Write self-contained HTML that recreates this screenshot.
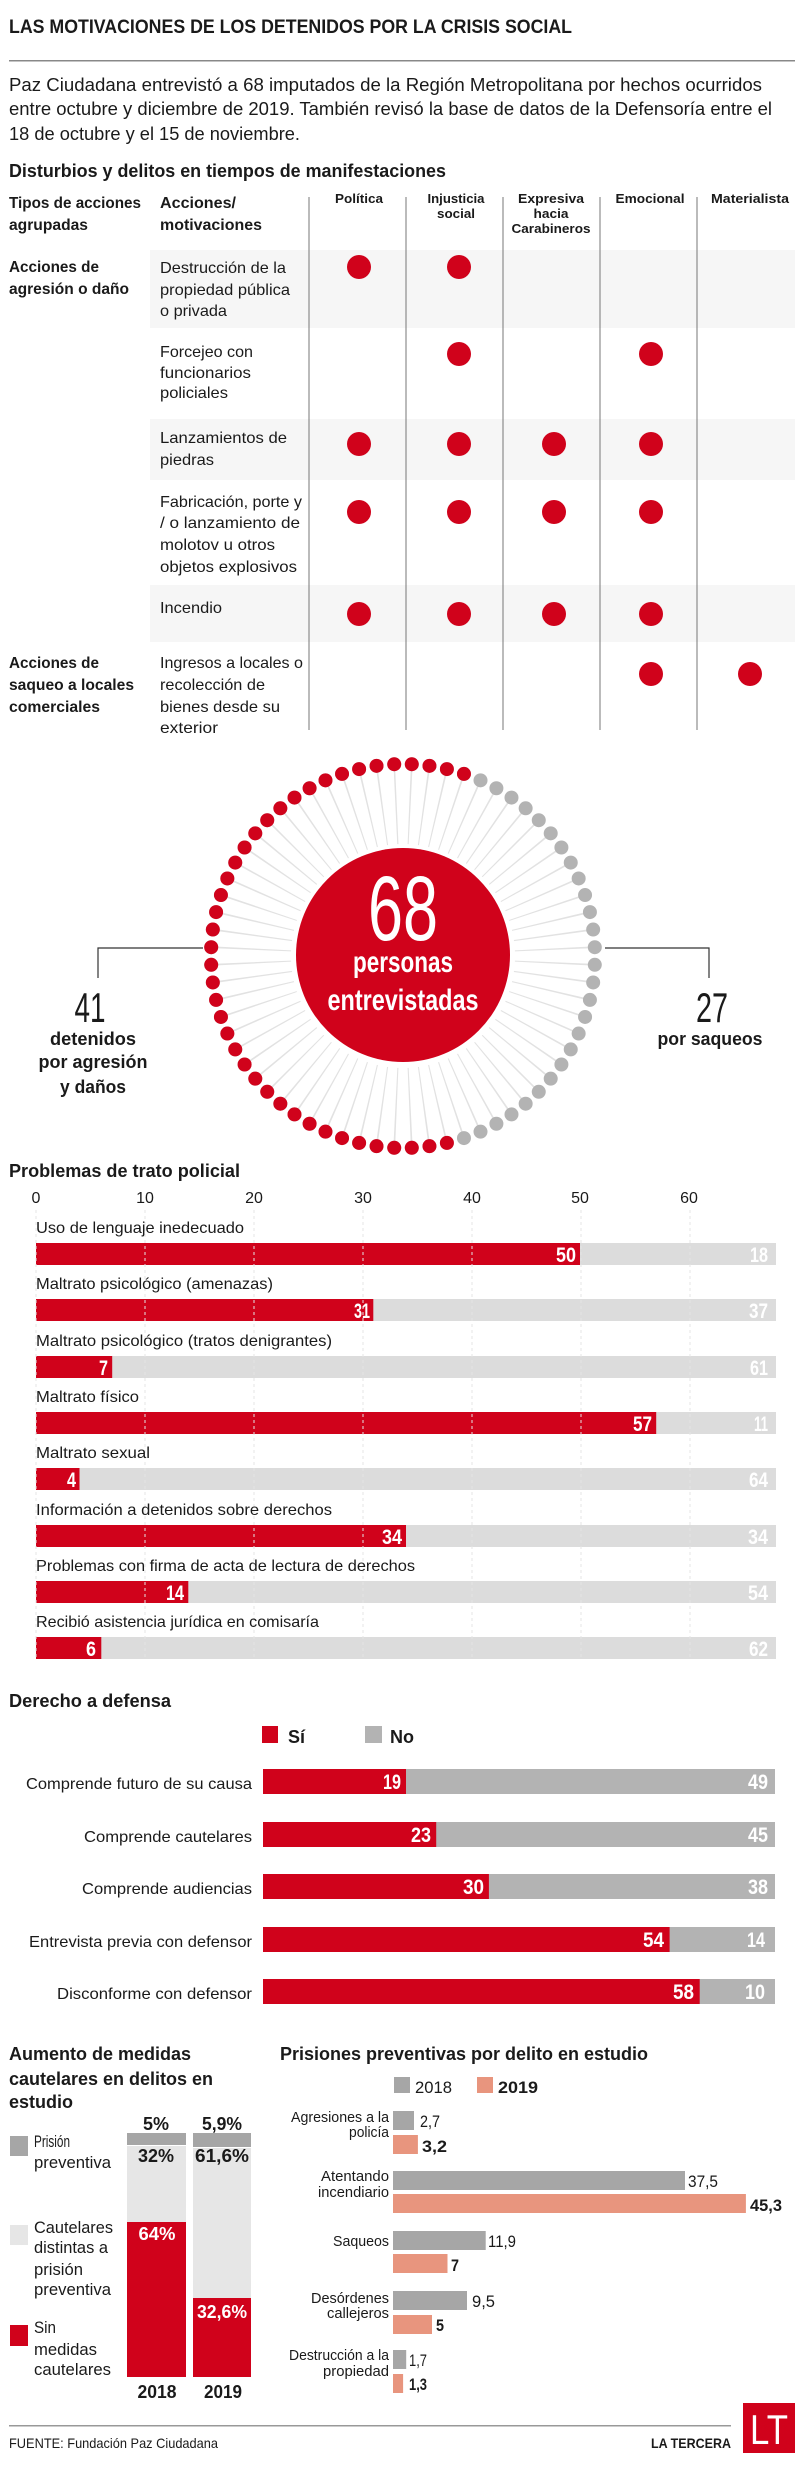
<!DOCTYPE html>
<html><head><meta charset="utf-8"><style>
html,body{margin:0;padding:0;background:#fff;}
svg{display:block;}
text{font-family:"Liberation Sans Narrow","Liberation Sans",sans-serif;fill:#1a1a1a;}
.b{font-weight:bold;}
.w{fill:#fff;}
</style></head><body>
<svg width="800" height="2476" viewBox="0 0 800 2476" xmlns="http://www.w3.org/2000/svg">
<g lengthAdjust="spacingAndGlyphs">
<text x="9" y="33" class="b" font-size="19" textLength="563" lengthAdjust="spacingAndGlyphs">LAS MOTIVACIONES DE LOS DETENIDOS POR LA CRISIS SOCIAL</text>
<rect x="9" y="60" width="786" height="1.5" fill="#888"/>
<text x="9" y="91" font-size="18" textLength="753" lengthAdjust="spacingAndGlyphs">Paz Ciudadana entrevistó a 68 imputados de la Región Metropolitana por hechos ocurridos</text>
<text x="9" y="115" font-size="18" textLength="763" lengthAdjust="spacingAndGlyphs">entre octubre y diciembre de 2019. También revisó la base de datos de la Defensoría entre el</text>
<text x="9" y="140" font-size="18" textLength="291" lengthAdjust="spacingAndGlyphs">18 de octubre y el 15 de noviembre.</text>
<text x="9" y="177" class="b" font-size="18" textLength="437" lengthAdjust="spacingAndGlyphs">Disturbios y delitos en tiempos de manifestaciones</text>

<!-- table -->
<rect x="150" y="250" width="645" height="78" fill="#f6f6f6"/>
<rect x="150" y="419" width="645" height="61" fill="#f6f6f6"/>
<rect x="150" y="585" width="645" height="57" fill="#f6f6f6"/>
<g stroke="#777" stroke-width="1">
<line x1="309" y1="197" x2="309" y2="730"/><line x1="406" y1="197" x2="406" y2="730"/>
<line x1="503" y1="197" x2="503" y2="730"/><line x1="600" y1="197" x2="600" y2="730"/>
<line x1="697" y1="197" x2="697" y2="730"/>
</g>
<text x="9" y="208" class="b" font-size="16" textLength="132" lengthAdjust="spacingAndGlyphs">Tipos de acciones</text>
<text x="9" y="230" class="b" font-size="16" textLength="79" lengthAdjust="spacingAndGlyphs">agrupadas</text>
<text x="160" y="208" class="b" font-size="16" textLength="76" lengthAdjust="spacingAndGlyphs">Acciones/</text>
<text x="160" y="230" class="b" font-size="16" textLength="102" lengthAdjust="spacingAndGlyphs">motivaciones</text>
<g font-size="13" class="b" text-anchor="middle">
<text x="359" y="203" class="b" textLength="48" lengthAdjust="spacingAndGlyphs">Política</text>
<text x="456" y="203" class="b" textLength="57" lengthAdjust="spacingAndGlyphs">Injusticia</text>
<text x="456" y="218" class="b" textLength="38" lengthAdjust="spacingAndGlyphs">social</text>
<text x="551" y="203" class="b" textLength="66" lengthAdjust="spacingAndGlyphs">Expresiva</text>
<text x="551" y="218" class="b" textLength="35" lengthAdjust="spacingAndGlyphs">hacia</text>
<text x="551" y="233" class="b" textLength="79" lengthAdjust="spacingAndGlyphs">Carabineros</text>
<text x="650" y="203" class="b" textLength="69" lengthAdjust="spacingAndGlyphs">Emocional</text>
<text x="750" y="203" class="b" textLength="78" lengthAdjust="spacingAndGlyphs">Materialista</text>
</g>
<text x="9" y="272" class="b" font-size="16" textLength="90" lengthAdjust="spacingAndGlyphs">Acciones de</text>
<text x="9" y="294" class="b" font-size="16" textLength="120" lengthAdjust="spacingAndGlyphs">agresión o daño</text>
<text x="9" y="668" class="b" font-size="16" textLength="90" lengthAdjust="spacingAndGlyphs">Acciones de</text>
<text x="9" y="690" class="b" font-size="16" textLength="125" lengthAdjust="spacingAndGlyphs">saqueo a locales</text>
<text x="9" y="712" class="b" font-size="16" textLength="91" lengthAdjust="spacingAndGlyphs">comerciales</text>
<g font-size="16">
<text x="160" y="273" textLength="126" lengthAdjust="spacingAndGlyphs">Destrucción de la</text>
<text x="160" y="295" textLength="130" lengthAdjust="spacingAndGlyphs">propiedad pública</text>
<text x="160" y="316" textLength="67" lengthAdjust="spacingAndGlyphs">o privada</text>
<text x="160" y="357" textLength="93" lengthAdjust="spacingAndGlyphs">Forcejeo con</text>
<text x="160" y="378" textLength="91" lengthAdjust="spacingAndGlyphs">funcionarios</text>
<text x="160" y="398" textLength="68" lengthAdjust="spacingAndGlyphs">policiales</text>
<text x="160" y="443" textLength="127" lengthAdjust="spacingAndGlyphs">Lanzamientos de</text>
<text x="160" y="465" textLength="54" lengthAdjust="spacingAndGlyphs">piedras</text>
<text x="160" y="507" textLength="142" lengthAdjust="spacingAndGlyphs">Fabricación, porte y</text>
<text x="160" y="528" textLength="140" lengthAdjust="spacingAndGlyphs">/ o lanzamiento de</text>
<text x="160" y="550" textLength="115" lengthAdjust="spacingAndGlyphs">molotov u otros</text>
<text x="160" y="572" textLength="137" lengthAdjust="spacingAndGlyphs">objetos explosivos</text>
<text x="160" y="613" textLength="62" lengthAdjust="spacingAndGlyphs">Incendio</text>
<text x="160" y="668" textLength="143" lengthAdjust="spacingAndGlyphs">Ingresos a locales o</text>
<text x="160" y="690" textLength="105" lengthAdjust="spacingAndGlyphs">recolección de</text>
<text x="160" y="712" textLength="120" lengthAdjust="spacingAndGlyphs">bienes desde su</text>
<text x="160" y="733" textLength="58" lengthAdjust="spacingAndGlyphs">exterior</text>
</g>
<g fill="#d0021b">
<circle cx="359" cy="267" r="12"/><circle cx="459" cy="267" r="12"/>
<circle cx="459" cy="354" r="12"/><circle cx="651" cy="354" r="12"/>
<circle cx="359" cy="444" r="12"/><circle cx="459" cy="444" r="12"/><circle cx="554" cy="444" r="12"/><circle cx="651" cy="444" r="12"/>
<circle cx="359" cy="512" r="12"/><circle cx="459" cy="512" r="12"/><circle cx="554" cy="512" r="12"/><circle cx="651" cy="512" r="12"/>
<circle cx="359" cy="614" r="12"/><circle cx="459" cy="614" r="12"/><circle cx="554" cy="614" r="12"/><circle cx="651" cy="614" r="12"/>
<circle cx="651" cy="674" r="12"/><circle cx="750" cy="674" r="12"/>
</g>

<!-- circle graphic -->
<defs><clipPath id="redc"><polygon points="0,700 476,700 452.9,1200 0,1200"/></clipPath></defs>
<circle cx="403" cy="956" r="150" fill="none" stroke="#e2e2e2" stroke-width="76" pathLength="68" stroke-dasharray="0.1 0.9" stroke-dashoffset="-0.45"/>
<circle cx="403" cy="956" r="192" fill="none" stroke="#b3b3b3" stroke-width="14" stroke-linecap="round" pathLength="68" stroke-dasharray="0 1" stroke-dashoffset="-0.5"/>
<circle cx="403" cy="956" r="192" fill="none" stroke="#d0021b" stroke-width="14" stroke-linecap="round" pathLength="68" stroke-dasharray="0 1" stroke-dashoffset="-0.5" clip-path="url(#redc)"/>
<circle cx="403" cy="955" r="107" fill="#d0021b"/>
<text x="403" y="940" text-anchor="middle" class="w" font-size="92" textLength="70" lengthAdjust="spacingAndGlyphs">68</text>
<text x="403" y="972" text-anchor="middle" class="w b" font-size="30" textLength="100" lengthAdjust="spacingAndGlyphs">personas</text>
<text x="403" y="1010" text-anchor="middle" class="w b" font-size="30" textLength="151" lengthAdjust="spacingAndGlyphs">entrevistadas</text>
<polyline points="203,948 98,948 98,978" fill="none" stroke="#333" stroke-width="1.2"/>
<polyline points="605,948 709,948 709,978" fill="none" stroke="#333" stroke-width="1.2"/>
<text x="90" y="1022" text-anchor="middle" font-size="42" textLength="31" lengthAdjust="spacingAndGlyphs">41</text>
<text x="93" y="1045" text-anchor="middle" class="b" font-size="18" textLength="86" lengthAdjust="spacingAndGlyphs">detenidos</text>
<text x="93" y="1068" text-anchor="middle" class="b" font-size="18" textLength="109" lengthAdjust="spacingAndGlyphs">por agresión</text>
<text x="93" y="1093" text-anchor="middle" class="b" font-size="18" textLength="66" lengthAdjust="spacingAndGlyphs">y daños</text>
<text x="712" y="1022" text-anchor="middle" font-size="42" textLength="32" lengthAdjust="spacingAndGlyphs">27</text>
<text x="710" y="1045" text-anchor="middle" class="b" font-size="18" textLength="105" lengthAdjust="spacingAndGlyphs">por saqueos</text>

<!-- problemas -->
<text x="9" y="1177" class="b" font-size="18" textLength="231" lengthAdjust="spacingAndGlyphs">Problemas de trato policial</text>
<g font-size="16" text-anchor="middle">
<text x="36" y="1203">0</text><text x="145" y="1203">10</text><text x="254" y="1203">20</text>
<text x="363" y="1203">30</text><text x="472" y="1203">40</text><text x="580" y="1203">50</text><text x="689" y="1203">60</text>
</g>
<g>
<rect x="36" y="1243" width="740" height="22" fill="#dcdcdc"/><rect x="36" y="1243" width="544" height="22" fill="#d0021b"/>
<rect x="36" y="1299" width="740" height="22" fill="#dcdcdc"/><rect x="36" y="1299" width="337.3" height="22" fill="#d0021b"/>
<rect x="36" y="1356" width="740" height="22" fill="#dcdcdc"/><rect x="36" y="1356" width="76.2" height="22" fill="#d0021b"/>
<rect x="36" y="1412" width="740" height="22" fill="#dcdcdc"/><rect x="36" y="1412" width="620.2" height="22" fill="#d0021b"/>
<rect x="36" y="1468" width="740" height="22" fill="#dcdcdc"/><rect x="36" y="1468" width="43.5" height="22" fill="#d0021b"/>
<rect x="36" y="1525" width="740" height="22" fill="#dcdcdc"/><rect x="36" y="1525" width="370" height="22" fill="#d0021b"/>
<rect x="36" y="1581" width="740" height="22" fill="#dcdcdc"/><rect x="36" y="1581" width="152.3" height="22" fill="#d0021b"/>
<rect x="36" y="1637" width="740" height="22" fill="#dcdcdc"/><rect x="36" y="1637" width="65.3" height="22" fill="#d0021b"/>
</g>
<g stroke="#e4e4e4" stroke-width="1" stroke-dasharray="3 3">
<line x1="36" y1="1210" x2="36" y2="1660"/><line x1="145" y1="1210" x2="145" y2="1660"/>
<line x1="254" y1="1210" x2="254" y2="1660"/><line x1="363" y1="1210" x2="363" y2="1660"/>
<line x1="472" y1="1210" x2="472" y2="1660"/><line x1="581" y1="1210" x2="581" y2="1660"/>
<line x1="690" y1="1210" x2="690" y2="1660"/>
</g>
<g font-size="16">
<text x="36" y="1233" textLength="208" lengthAdjust="spacingAndGlyphs">Uso de lenguaje inedecuado</text>
<text x="36" y="1289" textLength="237" lengthAdjust="spacingAndGlyphs">Maltrato psicológico (amenazas)</text>
<text x="36" y="1346" textLength="296" lengthAdjust="spacingAndGlyphs">Maltrato psicológico (tratos denigrantes)</text>
<text x="36" y="1402" textLength="103" lengthAdjust="spacingAndGlyphs">Maltrato físico</text>
<text x="36" y="1458" textLength="114" lengthAdjust="spacingAndGlyphs">Maltrato sexual</text>
<text x="36" y="1515" textLength="296" lengthAdjust="spacingAndGlyphs">Información a detenidos sobre derechos</text>
<text x="36" y="1571" textLength="379" lengthAdjust="spacingAndGlyphs">Problemas con firma de acta de lectura de derechos</text>
<text x="36" y="1627" textLength="283" lengthAdjust="spacingAndGlyphs">Recibió asistencia jurídica en comisaría</text>
</g>
<g font-size="21" class="b" text-anchor="end">
<text x="576" y="1262" class="w b" textLength="20" lengthAdjust="spacingAndGlyphs">50</text><text x="768" y="1262" class="w b" textLength="18" lengthAdjust="spacingAndGlyphs">18</text>
<text x="370" y="1318" class="w b" textLength="16" lengthAdjust="spacingAndGlyphs">31</text><text x="768" y="1318" class="w b" textLength="19" lengthAdjust="spacingAndGlyphs">37</text>
<text x="108" y="1375" class="w b" textLength="9" lengthAdjust="spacingAndGlyphs">7</text><text x="768" y="1375" class="w b" textLength="18" lengthAdjust="spacingAndGlyphs">61</text>
<text x="652" y="1431" class="w b" textLength="19" lengthAdjust="spacingAndGlyphs">57</text><text x="768" y="1431" class="w b" textLength="14" lengthAdjust="spacingAndGlyphs">11</text>
<text x="76" y="1487" class="w b" textLength="9" lengthAdjust="spacingAndGlyphs">4</text><text x="768" y="1487" class="w b" textLength="19" lengthAdjust="spacingAndGlyphs">64</text>
<text x="402" y="1544" class="w b" textLength="20" lengthAdjust="spacingAndGlyphs">34</text><text x="768" y="1544" class="w b" textLength="20" lengthAdjust="spacingAndGlyphs">34</text>
<text x="184" y="1600" class="w b" textLength="18" lengthAdjust="spacingAndGlyphs">14</text><text x="768" y="1600" class="w b" textLength="20" lengthAdjust="spacingAndGlyphs">54</text>
<text x="96" y="1656" class="w b" textLength="10" lengthAdjust="spacingAndGlyphs">6</text><text x="768" y="1656" class="w b" textLength="19" lengthAdjust="spacingAndGlyphs">62</text>
</g>

<!-- derecho a defensa -->
<text x="9" y="1707" class="b" font-size="18" textLength="162" lengthAdjust="spacingAndGlyphs">Derecho a defensa</text>
<rect x="262" y="1726" width="16" height="17" fill="#d0021b"/>
<text x="288" y="1743" class="b" font-size="18">Sí</text>
<rect x="365" y="1726" width="17" height="17" fill="#b3b3b3"/>
<text x="390" y="1743" class="b" font-size="18" textLength="24" lengthAdjust="spacingAndGlyphs">No</text>
<g>
<rect x="263" y="1769" width="512" height="25" fill="#b3b3b3"/><rect x="263" y="1769" width="143" height="25" fill="#d0021b"/>
<rect x="263" y="1822" width="512" height="25" fill="#b3b3b3"/><rect x="263" y="1822" width="173.2" height="25" fill="#d0021b"/>
<rect x="263" y="1874" width="512" height="25" fill="#b3b3b3"/><rect x="263" y="1874" width="225.9" height="25" fill="#d0021b"/>
<rect x="263" y="1927" width="512" height="25" fill="#b3b3b3"/><rect x="263" y="1927" width="406.6" height="25" fill="#d0021b"/>
<rect x="263" y="1979" width="512" height="25" fill="#b3b3b3"/><rect x="263" y="1979" width="436.7" height="25" fill="#d0021b"/>
</g>
<g font-size="16" text-anchor="end">
<text x="252" y="1789" textLength="226" lengthAdjust="spacingAndGlyphs">Comprende futuro de su causa</text>
<text x="252" y="1842" textLength="168" lengthAdjust="spacingAndGlyphs">Comprende cautelares</text>
<text x="252" y="1894" textLength="170" lengthAdjust="spacingAndGlyphs">Comprende audiencias</text>
<text x="252" y="1947" textLength="223" lengthAdjust="spacingAndGlyphs">Entrevista previa con defensor</text>
<text x="252" y="1999" textLength="195" lengthAdjust="spacingAndGlyphs">Disconforme con defensor</text>
</g>
<g font-size="21" text-anchor="end">
<text x="401" y="1789" class="w b" textLength="18" lengthAdjust="spacingAndGlyphs">19</text><text x="768" y="1789" class="w b" textLength="20" lengthAdjust="spacingAndGlyphs">49</text>
<text x="431" y="1842" class="w b" textLength="20" lengthAdjust="spacingAndGlyphs">23</text><text x="768" y="1842" class="w b" textLength="20" lengthAdjust="spacingAndGlyphs">45</text>
<text x="484" y="1894" class="w b" textLength="21" lengthAdjust="spacingAndGlyphs">30</text><text x="768" y="1894" class="w b" textLength="20" lengthAdjust="spacingAndGlyphs">38</text>
<text x="664" y="1947" class="w b" textLength="21" lengthAdjust="spacingAndGlyphs">54</text><text x="765" y="1947" class="w b" textLength="18" lengthAdjust="spacingAndGlyphs">14</text>
<text x="694" y="1999" class="w b" textLength="21" lengthAdjust="spacingAndGlyphs">58</text><text x="765" y="1999" class="w b" textLength="20" lengthAdjust="spacingAndGlyphs">10</text>
</g>

<!-- aumento de medidas -->
<text x="9" y="2060" class="b" font-size="18" textLength="182" lengthAdjust="spacingAndGlyphs">Aumento de medidas</text>
<text x="9" y="2085" class="b" font-size="18" textLength="204" lengthAdjust="spacingAndGlyphs">cautelares en delitos en</text>
<text x="9" y="2108" class="b" font-size="18" textLength="64" lengthAdjust="spacingAndGlyphs">estudio</text>
<rect x="10" y="2136" width="18" height="20" fill="#a6a6a6"/>
<rect x="10" y="2225" width="18" height="20" fill="#e6e6e6"/>
<rect x="10" y="2325" width="18" height="21" fill="#d0021b"/>
<g font-size="17">
<text x="34" y="2147" textLength="36" lengthAdjust="spacingAndGlyphs">Prisión</text>
<text x="34" y="2168" textLength="77" lengthAdjust="spacingAndGlyphs">preventiva</text>
<text x="34" y="2233" textLength="79" lengthAdjust="spacingAndGlyphs">Cautelares</text>
<text x="34" y="2253" textLength="74" lengthAdjust="spacingAndGlyphs">distintas a</text>
<text x="34" y="2275" textLength="49" lengthAdjust="spacingAndGlyphs">prisión</text>
<text x="34" y="2295" textLength="77" lengthAdjust="spacingAndGlyphs">preventiva</text>
<text x="34" y="2333" textLength="22" lengthAdjust="spacingAndGlyphs">Sin</text>
<text x="34" y="2355" textLength="63" lengthAdjust="spacingAndGlyphs">medidas</text>
<text x="34" y="2375" textLength="77" lengthAdjust="spacingAndGlyphs">cautelares</text>
</g>
<rect x="127" y="2133" width="59" height="12" fill="#a6a6a6"/>
<rect x="127" y="2146" width="59" height="76" fill="#e6e6e6"/>
<rect x="127" y="2222" width="59" height="155" fill="#d0021b"/>
<rect x="193" y="2133" width="58" height="14" fill="#a6a6a6"/>
<rect x="193" y="2148" width="58" height="150" fill="#e6e6e6"/>
<rect x="193" y="2298" width="58" height="79" fill="#d0021b"/>
<g font-size="18" text-anchor="middle" class="b">
<text x="156" y="2130" class="b" textLength="26" lengthAdjust="spacingAndGlyphs">5%</text>
<text x="222" y="2130" class="b" textLength="40" lengthAdjust="spacingAndGlyphs">5,9%</text>
<text x="156" y="2162" class="b" textLength="36" lengthAdjust="spacingAndGlyphs">32%</text>
<text x="222" y="2162" class="b" textLength="54" lengthAdjust="spacingAndGlyphs">61,6%</text>
<text x="157" y="2240" class="b w" textLength="37" lengthAdjust="spacingAndGlyphs">64%</text>
<text x="222" y="2318" class="b w" textLength="50" lengthAdjust="spacingAndGlyphs">32,6%</text>
<text x="157" y="2398" class="b" textLength="39" lengthAdjust="spacingAndGlyphs">2018</text>
<text x="223" y="2398" class="b" textLength="38" lengthAdjust="spacingAndGlyphs">2019</text>
</g>

<!-- prisiones preventivas -->
<text x="280" y="2060" class="b" font-size="18" textLength="368" lengthAdjust="spacingAndGlyphs">Prisiones preventivas por delito en estudio</text>
<rect x="394" y="2077" width="16" height="16" fill="#a6a6a6"/>
<text x="415" y="2093" font-size="17" textLength="37" lengthAdjust="spacingAndGlyphs">2018</text>
<rect x="477" y="2077" width="16" height="16" fill="#e8957e"/>
<text x="498" y="2093" class="b" font-size="17" textLength="40" lengthAdjust="spacingAndGlyphs">2019</text>
<g fill="#a6a6a6">
<rect x="393" y="2111" width="21" height="19"/>
<rect x="393" y="2171" width="292" height="19"/>
<rect x="393" y="2231" width="92.7" height="19"/>
<rect x="393" y="2291" width="74" height="19"/>
<rect x="393" y="2350" width="13.2" height="19"/>
</g>
<g fill="#e8957e">
<rect x="393" y="2135" width="24.9" height="19"/>
<rect x="393" y="2194" width="352.9" height="19"/>
<rect x="393" y="2254" width="54.5" height="19"/>
<rect x="393" y="2315" width="39" height="19"/>
<rect x="393" y="2374" width="10.1" height="19"/>
</g>
<g font-size="15" text-anchor="end">
<text x="389" y="2122" textLength="98" lengthAdjust="spacingAndGlyphs">Agresiones a la</text>
<text x="389" y="2137" textLength="40" lengthAdjust="spacingAndGlyphs">policía</text>
<text x="389" y="2181" textLength="68" lengthAdjust="spacingAndGlyphs">Atentando</text>
<text x="389" y="2197" textLength="71" lengthAdjust="spacingAndGlyphs">incendiario</text>
<text x="389" y="2246" textLength="56" lengthAdjust="spacingAndGlyphs">Saqueos</text>
<text x="389" y="2303" textLength="78" lengthAdjust="spacingAndGlyphs">Desórdenes</text>
<text x="389" y="2318" textLength="62" lengthAdjust="spacingAndGlyphs">callejeros</text>
<text x="389" y="2360" textLength="100" lengthAdjust="spacingAndGlyphs">Destrucción a la</text>
<text x="389" y="2376" textLength="66" lengthAdjust="spacingAndGlyphs">propiedad</text>
</g>
<g font-size="17">
<text x="420" y="2127" textLength="20" lengthAdjust="spacingAndGlyphs">2,7</text>
<text x="422" y="2152" class="b" textLength="25" lengthAdjust="spacingAndGlyphs">3,2</text>
<text x="688" y="2187" textLength="30" lengthAdjust="spacingAndGlyphs">37,5</text>
<text x="750" y="2211" class="b" textLength="32" lengthAdjust="spacingAndGlyphs">45,3</text>
<text x="488" y="2247" textLength="28" lengthAdjust="spacingAndGlyphs">11,9</text>
<text x="451" y="2271" class="b" textLength="8" lengthAdjust="spacingAndGlyphs">7</text>
<text x="472" y="2307" textLength="23" lengthAdjust="spacingAndGlyphs">9,5</text>
<text x="436" y="2331" class="b" textLength="8" lengthAdjust="spacingAndGlyphs">5</text>
<text x="409" y="2366" textLength="18" lengthAdjust="spacingAndGlyphs">1,7</text>
<text x="409" y="2390" class="b" textLength="18" lengthAdjust="spacingAndGlyphs">1,3</text>
</g>

<!-- footer -->
<rect x="9" y="2425" width="722" height="1.5" fill="#999"/>
<text x="9" y="2448" font-size="14" textLength="209" lengthAdjust="spacingAndGlyphs">FUENTE: Fundación Paz Ciudadana</text>
<text x="731" y="2448" text-anchor="end" class="b" font-size="14" textLength="80" lengthAdjust="spacingAndGlyphs">LA TERCERA</text>
<rect x="743" y="2403" width="52" height="50" fill="#d0021b"/>
<text x="769" y="2444" text-anchor="middle" class="w" font-size="42" textLength="38" lengthAdjust="spacingAndGlyphs">LT</text>
</g>
</svg>
</body></html>
